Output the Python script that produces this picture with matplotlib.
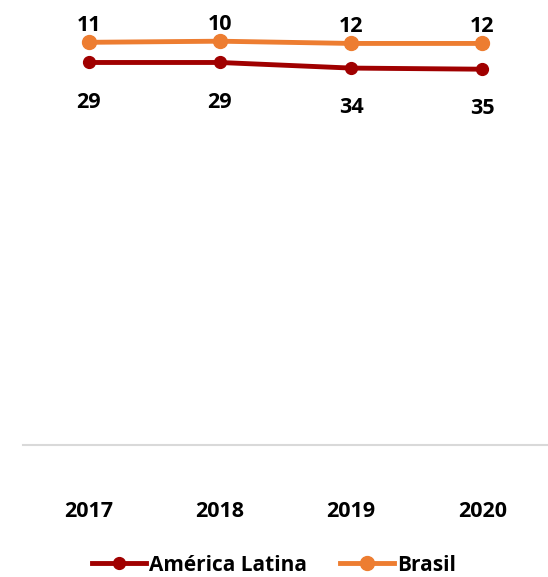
import numpy as np
from matplotlib import pyplot as plt

# datos
anios = ['2017', '2018', '2019', '2020']
america_latina = [29, 29, 34, 35]
brasil = [11, 10, 12, 12]

plt.rcParams['font.family'] = ['Open Sans', 'DejaVu Sans']
plt.rcParams['font.weight'] = 'bold'

fig = plt.figure(figsize=(5.48, 5.77), dpi=100)
ax = fig.add_axes([23/548, 1 - 445/577, 1 - 23/548, (445 - 30)/577])

x = np.arange(len(anios))
ax.plot(x, america_latina, '-o', color='#A00000', linewidth=3.5, markersize=8.5, label='América Latina')
ax.plot(x, brasil, '-o', color='#ED7D31', linewidth=3.5, markersize=10, label='Brasil')

for xi, v in zip(x, brasil):
    ax.annotate(str(v), (xi, v), xytext=(0, 12), textcoords='offset points',
                ha='center', va='center', fontsize=15.5, fontweight='bold')
for xi, v in zip(x, america_latina):
    ax.annotate(str(v), (xi, v), xytext=(0, -28.5), textcoords='offset points',
                ha='center', va='center', fontsize=15.5, fontweight='bold')

ax.set_xlim(-0.5, 3.5)
ax.set_ylim(370.5, 0)
ax.set_xticks(x)
ax.set_xticklabels(anios, fontsize=15.5, fontweight='bold')
ax.tick_params(axis='x', length=0, pad=40)
ax.set_yticks([])
for s in ['top', 'left', 'right']:
    ax.spines[s].set_visible(False)
ax.spines['bottom'].set_color('#D9D9D9')
ax.spines['bottom'].set_linewidth(1.5)

fig.legend(loc='lower center', bbox_to_anchor=(0.5, -0.03), ncol=2, frameon=False,
           handlelength=2.6, handletextpad=0.15, columnspacing=1.6,
           prop={'weight': 'bold', 'size': 15})

plt.savefig('out.png', dpi=100)
